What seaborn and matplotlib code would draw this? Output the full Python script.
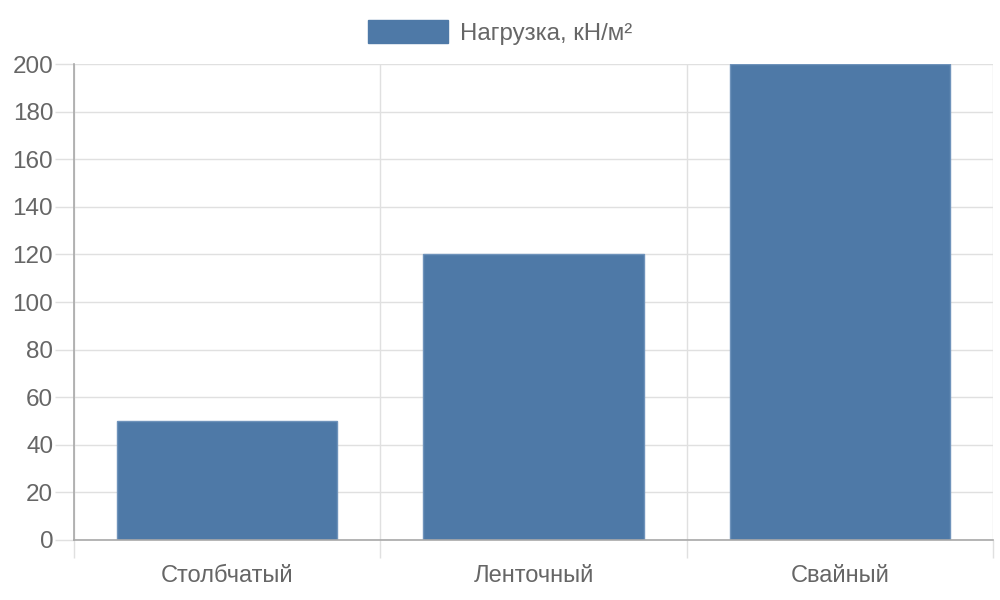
import matplotlib
matplotlib.use("Agg")
import matplotlib.pyplot as plt
import seaborn as sns
import pandas as pd

categories = ["Столбчатый", "Ленточный", "Свайный"]
loads = [50, 120, 200]
series_name = "Нагрузка, кН/м²"

df = pd.DataFrame({"type": categories, "load": loads})

sns.set_style("white")
plt.rcParams["font.family"] = ["Liberation Sans", "DejaVu Sans"]

grid_c = "#e0e0e0"
axis_c = "#a8a8a8"
text_c = "#666666"
bar_c = "#4e79a7"

fig = plt.figure(figsize=(10, 6), dpi=100)
ax = fig.add_axes([0.074, 0.1, 0.919, 0.7933])

sns.barplot(data=df, x="type", y="load", color=bar_c, width=0.72,
            edgecolor="#6f93bb", linewidth=1, saturation=1, ax=ax)

ax.set_xlim(-0.5, 2.5)
ax.set_ylim(0, 200)
ax.set_yticks(range(0, 201, 20))
ax.set_xticks([-0.5, 0.5, 1.5, 2.5], minor=True)
ax.set_xlabel("")
ax.set_ylabel("")

ax.grid(True, axis="y", color=grid_c, linewidth=1)
ax.grid(True, axis="x", which="minor", color=grid_c, linewidth=1)
ax.set_axisbelow(True)

for s in ["top", "right"]:
    ax.spines[s].set_visible(False)
for s in ["left", "bottom"]:
    ax.spines[s].set_color(axis_c)
    ax.spines[s].set_linewidth(1.2)

ax.tick_params(axis="y", left=True, length=14, width=1, color=grid_c, pad=1,
               labelsize=17.5, labelcolor=text_c)
ax.tick_params(axis="x", which="major", bottom=True, length=0, pad=18,
               labelsize=17, labelcolor=text_c)
ax.tick_params(axis="x", which="minor", bottom=True, length=13, width=1,
               color=grid_c)

fig.legend(handles=[plt.Rectangle((0, 0), 1, 1, color=bar_c)],
           labels=[series_name], loc="upper center",
           bbox_to_anchor=(0.5, 0.995), borderaxespad=0.3, frameon=False,
           fontsize=17.3, handlelength=3.3, handleheight=1.1,
           handletextpad=0.5, labelcolor=text_c)

fig.savefig("out.png", dpi=100)
